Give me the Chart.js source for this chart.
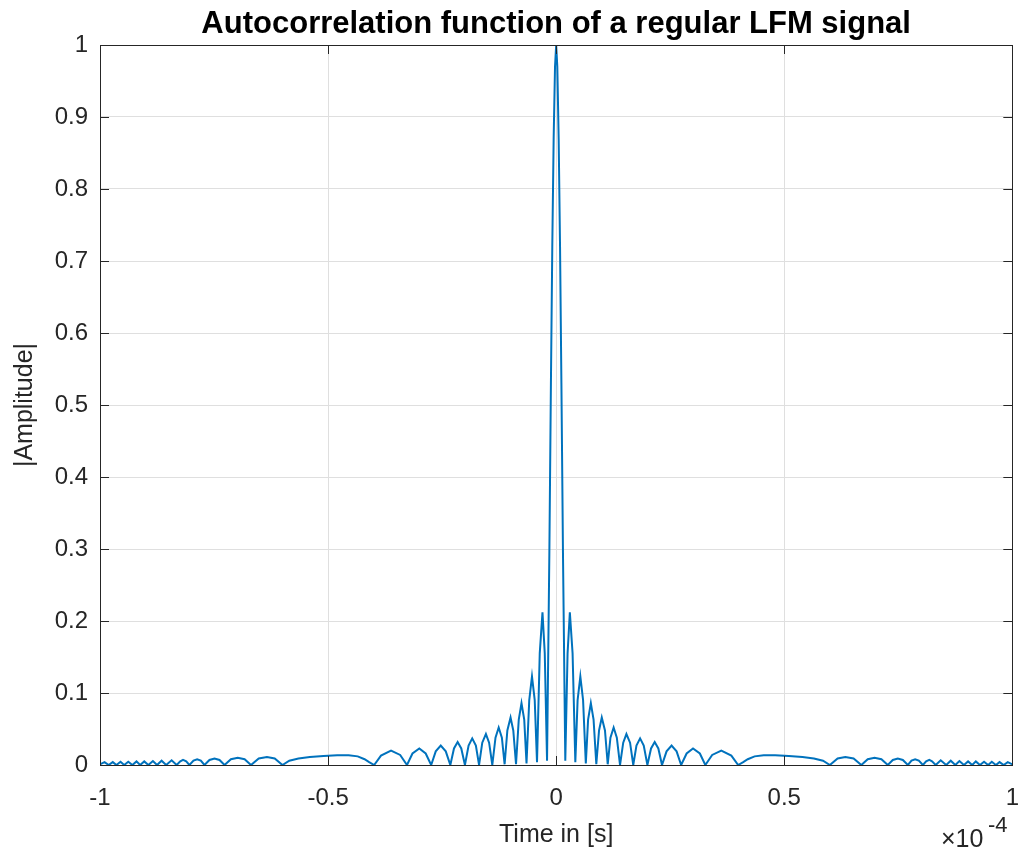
<!DOCTYPE html>
<html>
<head>
<meta charset="utf-8">
<title>Autocorrelation function of a regular LFM signal</title>
<script src="https://cdn.jsdelivr.net/npm/chart.js@4.4.1/dist/chart.umd.min.js"></script>
<style>
  html, body { margin: 0; padding: 0; background: #fff; }
  #acf { display: block; }
</style>
</head>
<body>
<canvas id="acf" width="1019" height="854"></canvas>
<script>
// time axis in units of 1e-4 s (the plot shows "x10^-4" at the corner)
const timeE4 = [
  -1.000, -0.990, -0.981, -0.972, -0.964, -0.955, -0.947, -0.938, -0.929, -0.920,
  -0.912, -0.903, -0.894, -0.884, -0.875, -0.865, -0.855, -0.843, -0.832,
  -0.824, -0.818, -0.811, -0.804, -0.795, -0.787, -0.779, -0.771,
  -0.760, -0.749, -0.738, -0.727, -0.713, -0.698, -0.683, -0.669,
  -0.652, -0.634, -0.617, -0.600,
  -0.585, -0.565, -0.540, -0.510, -0.480, -0.455, -0.435, -0.420, -0.410, -0.399,
  -0.384, -0.362, -0.342, -0.327, -0.315, -0.300, -0.286, -0.274,
  -0.264, -0.253, -0.242, -0.232, -0.224, -0.216, -0.208, -0.200,
  -0.192, -0.184, -0.176, -0.169, -0.162, -0.154, -0.147, -0.140,
  -0.133, -0.126, -0.119, -0.113, -0.107, -0.100, -0.094, -0.088,
  -0.082, -0.076, -0.070, -0.065, -0.059, -0.053, -0.047, -0.042,
  -0.036, -0.030, -0.025, -0.020,
  -0.015, -0.0115, -0.0085, -0.0055, -0.0025,
  0,
  0.0025, 0.0055, 0.0085, 0.0115, 0.015,
  0.020, 0.025, 0.030, 0.036,
  0.042, 0.047, 0.053, 0.059, 0.065, 0.070, 0.076, 0.082,
  0.088, 0.094, 0.100, 0.107, 0.113, 0.119, 0.126, 0.133,
  0.140, 0.147, 0.154, 0.162, 0.169, 0.176, 0.184, 0.192,
  0.200, 0.208, 0.216, 0.224, 0.232, 0.242, 0.253, 0.264,
  0.274, 0.286, 0.300, 0.315, 0.327, 0.342, 0.362, 0.384,
  0.399, 0.410, 0.420, 0.435, 0.455, 0.480, 0.510, 0.540, 0.565, 0.585,
  0.600, 0.617, 0.634, 0.652,
  0.669, 0.683, 0.698, 0.713, 0.727, 0.738, 0.749, 0.760,
  0.771, 0.779, 0.787, 0.795, 0.804, 0.811, 0.818, 0.824,
  0.832, 0.843, 0.855, 0.865, 0.875, 0.884, 0.894, 0.903, 0.912,
  0.920, 0.929, 0.938, 0.947, 0.955, 0.964, 0.972, 0.981, 0.990, 1.000
];

// |amplitude|, point by point
const amplitude = [
  0.001, 0.004, 0.000, 0.004, 0.000, 0.0045, 0.000, 0.0045, 0.000, 0.005,
  0.000, 0.005, 0.000, 0.0055, 0.000, 0.006, 0.000, 0.0065, 0.000,
  0.005, 0.007, 0.005, 0.000, 0.006, 0.008, 0.006, 0.000,
  0.007, 0.009, 0.007, 0.000, 0.008, 0.010, 0.008, 0.000,
  0.009, 0.011, 0.009, 0.000,
  0.006, 0.009, 0.011, 0.0125, 0.0135, 0.0135, 0.012, 0.008, 0.004, 0.000,
  0.013, 0.020, 0.014, 0.000, 0.016, 0.023, 0.016, 0.000,
  0.019, 0.027, 0.019, 0.000, 0.023, 0.032, 0.023, 0.000,
  0.027, 0.037, 0.027, 0.000, 0.031, 0.043, 0.031, 0.000,
  0.038, 0.052, 0.038, 0.001, 0.048, 0.066, 0.048, 0.001,
  0.063, 0.086, 0.063, 0.002, 0.090, 0.123, 0.090, 0.004,
  0.155, 0.212, 0.155, 0.006,
  0.29, 0.53, 0.72, 0.87, 0.97,
  1.000,
  0.97, 0.87, 0.72, 0.53, 0.29,
  0.006, 0.155, 0.212, 0.155,
  0.004, 0.090, 0.123, 0.090, 0.002, 0.063, 0.086, 0.063,
  0.001, 0.048, 0.066, 0.048, 0.001, 0.038, 0.052, 0.038,
  0.000, 0.031, 0.043, 0.031, 0.000, 0.027, 0.037, 0.027,
  0.000, 0.023, 0.032, 0.023, 0.000, 0.019, 0.027, 0.019,
  0.000, 0.016, 0.023, 0.016, 0.000, 0.014, 0.020, 0.013,
  0.000, 0.004, 0.008, 0.012, 0.0135, 0.0135, 0.0125, 0.011, 0.009, 0.006,
  0.000, 0.009, 0.011, 0.009,
  0.000, 0.008, 0.010, 0.008, 0.000, 0.007, 0.009, 0.007,
  0.000, 0.006, 0.008, 0.006, 0.000, 0.005, 0.007, 0.005,
  0.000, 0.0065, 0.000, 0.006, 0.000, 0.0055, 0.000, 0.005, 0.000,
  0.005, 0.000, 0.0045, 0.000, 0.0045, 0.000, 0.004, 0.000, 0.004, 0.001
];

const xTicks = [-1, -0.5, 0, 0.5, 1];
const xTickLabels = ['-1', '-0.5', '0', '0.5', '1'];
const yTicks = [0, 0.1, 0.2, 0.3, 0.4, 0.5, 0.6, 0.7, 0.8, 0.9, 1];
const yTickLabels = ['0', '0.1', '0.2', '0.3', '0.4', '0.5', '0.6', '0.7', '0.8', '0.9', '1'];

const FONT = '"Liberation Sans", Arial, Helvetica, sans-serif';
const AXIS = '#262626';
const GRID = '#dfdfdf';

const points = timeE4.map((t, i) => ({ x: t, y: amplitude[i] }));

// MATLAB-style frame: box, inward ticks on all sides, title and exponent
const matlabFrame = {
  id: 'matlabFrame',
  afterDraw(chart) {
    const ctx = chart.ctx;
    const a = chart.chartArea;
    const sx = chart.scales.x, sy = chart.scales.y;
    const tick = 9;
    ctx.save();
    ctx.strokeStyle = AXIS;
    ctx.lineWidth = 1;
    ctx.strokeRect(Math.round(a.left) + 0.5, Math.round(a.top) + 0.5,
      Math.round(a.right - a.left), Math.round(a.bottom - a.top));
    ctx.beginPath();
    xTicks.forEach(v => {
      const px = Math.round(sx.getPixelForValue(v)) + 0.5;
      ctx.moveTo(px, a.bottom); ctx.lineTo(px, a.bottom - tick);
      ctx.moveTo(px, a.top); ctx.lineTo(px, a.top + tick);
    });
    yTicks.forEach(v => {
      const py = Math.round(sy.getPixelForValue(v)) + 0.5;
      ctx.moveTo(a.left, py); ctx.lineTo(a.left + tick, py);
      ctx.moveTo(a.right, py); ctx.lineTo(a.right - tick, py);
    });
    ctx.stroke();

    ctx.fillStyle = '#000';
    ctx.font = 'bold 31px ' + FONT;
    ctx.textAlign = 'center';
    ctx.textBaseline = 'alphabetic';
    ctx.fillText('Autocorrelation function of a regular LFM signal', (a.left + a.right) / 2, 33);

    ctx.fillStyle = AXIS;
    ctx.textAlign = 'left';
    ctx.font = '25px ' + FONT;
    ctx.fillText('\u00d710', 941, 847);
    ctx.font = '22px ' + FONT;
    ctx.fillText('-4', 988, 832);
    ctx.restore();
  }
};

new Chart(document.getElementById('acf'), {
  type: 'scatter',
  data: {
    datasets: [{
      data: points,
      showLine: true,
      borderColor: '#0072BD',
      borderWidth: 2,
      pointRadius: 0,
      tension: 0
    }]
  },
  options: {
    responsive: false,
    animation: false,
    devicePixelRatio: 1,
    layout: { padding: { top: 45, right: 6, left: 0, bottom: 0 } },
    plugins: { legend: { display: false }, tooltip: { enabled: false } },
    scales: {
      x: {
        type: 'linear',
        min: -1,
        max: 1,
        afterBuildTicks: s => { s.ticks = xTicks.map(v => ({ value: v })); },
        afterFit: s => { s.height = 89; },
        grid: { color: GRID, drawTicks: true, tickLength: 19, tickColor: 'rgba(0,0,0,0)' },
        border: { display: false },
        ticks: {
          color: AXIS,
          font: { family: FONT, size: 24 },
          padding: 0,
          maxRotation: 0,
          callback: v => xTickLabels[xTicks.indexOf(v)]
        },
        title: {
          display: true,
          text: 'Time in [s]',
          color: AXIS,
          font: { family: FONT, size: 25 },
          padding: { top: 0, bottom: 4 }
        }
      },
      y: {
        type: 'linear',
        min: 0,
        max: 1,
        afterBuildTicks: s => { s.ticks = yTicks.map(v => ({ value: v })); },
        afterFit: s => { s.width = 100; },
        grid: { color: GRID, drawTicks: false },
        border: { display: false },
        ticks: {
          color: AXIS,
          font: { family: FONT, size: 24 },
          padding: 12,
          callback: v => yTickLabels[yTicks.indexOf(v)]
        },
        title: {
          display: true,
          text: '|Amplitude|',
          color: AXIS,
          font: { family: FONT, size: 25 },
          padding: { top: 10, bottom: 0 }
        }
      }
    }
  },
  plugins: [matlabFrame]
});
</script>
</body>
</html>
